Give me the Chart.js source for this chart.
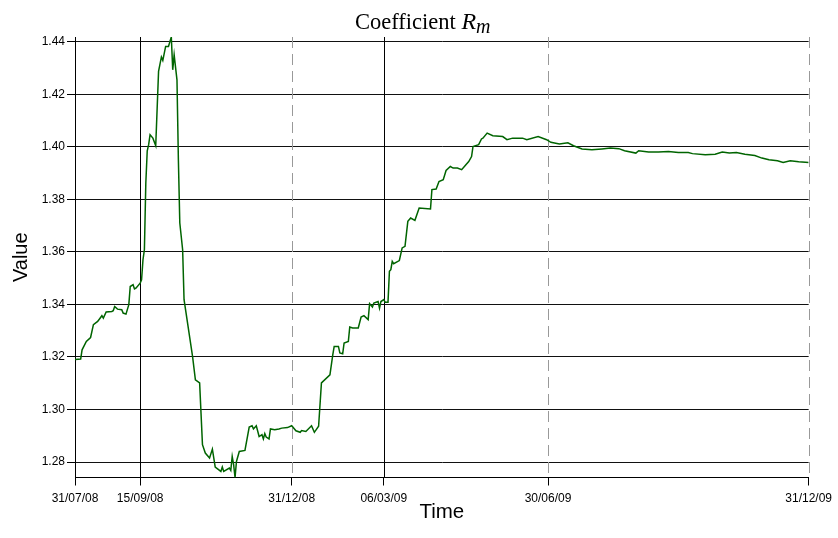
<!DOCTYPE html>
<html>
<head>
<meta charset="utf-8">
<script src="https://cdn.jsdelivr.net/npm/chart.js@4.4.0/dist/chart.umd.min.js"></script>
<style>
  html, body { margin: 0; padding: 0; background: #fff; }
  canvas { display: block; }
</style>
</head>
<body>
<canvas id="rmChart" width="838" height="538"></canvas>
<script>
// days counted from 31/07/08
const days = [0, 4, 5, 8, 11, 13, 16, 19, 20, 22, 26, 27, 28, 30, 33, 34, 36, 38, 39, 41,
  42, 43, 46, 47, 48, 49, 50, 51, 52, 53, 55, 57, 59, 61, 62, 64, 66, 68, 69, 70,
  72, 73, 74, 76, 77, 83, 85, 88, 90, 92, 95, 97, 99, 103, 104, 105, 109, 110, 111, 112,
  113, 114, 116, 120, 123, 125, 126, 128, 130, 132, 133, 134, 135, 137, 138, 141, 144, 146, 150, 153,
  156, 159, 160, 163, 167, 169, 172, 174, 180, 182, 183, 186, 187, 189, 190, 193, 194, 196, 200, 202,
  204, 207, 208, 210, 211, 214, 215, 216, 218, 219, 221, 222, 223, 224, 225, 229, 231, 233, 235, 237,
  240, 243, 251, 252, 255, 257, 260, 262, 265, 267, 270, 273, 276, 278, 280, 281, 285, 287, 288, 291,
  295, 302, 305, 309, 316, 319, 327, 333, 336, 342, 348, 352, 358, 365, 372, 378, 384, 388, 396, 398,
  405, 412, 419, 426, 433, 436, 445, 452, 457, 462, 467, 473, 480, 485, 490, 496, 500, 505, 511, 518];

const rm = [1.3190, 1.3192, 1.3227, 1.3259, 1.3274, 1.3323, 1.3335, 1.3357, 1.3348, 1.3371, 1.3373, 1.3376, 1.3392, 1.3382, 1.3380, 1.3367, 1.3363, 1.3399, 1.3468, 1.3475,
  1.3459, 1.3462, 1.3481, 1.3494, 1.3570, 1.3608, 1.3862, 1.3985, 1.4008, 1.4046, 1.4033, 1.4004, 1.4287, 1.4342, 1.4329, 1.4382, 1.4382, 1.4418, 1.4293, 1.4350,
  1.4255, 1.3950, 1.3710, 1.3608, 1.3418, 1.3202, 1.3113, 1.3101, 1.2866, 1.2834, 1.2815, 1.2849, 1.2781, 1.2764, 1.2781, 1.2764, 1.2777, 1.2768, 1.2821, 1.2790,
  1.2741, 1.2802, 1.2840, 1.2844, 1.2933, 1.2938, 1.2926, 1.2938, 1.2897, 1.2904, 1.2888, 1.2908, 1.2895, 1.2888, 1.2926, 1.2923, 1.2926, 1.2929, 1.2931, 1.2938,
  1.2919, 1.2913, 1.2920, 1.2916, 1.2938, 1.2913, 1.2936, 1.3101, 1.3132, 1.3208, 1.3240, 1.3240, 1.3215, 1.3212, 1.3253, 1.3259, 1.3314, 1.3310, 1.3310, 1.3352,
  1.3357, 1.3342, 1.3403, 1.3390, 1.3405, 1.3411, 1.3386, 1.3411, 1.3418, 1.3408, 1.3408, 1.3526, 1.3532, 1.3564, 1.3555, 1.3567, 1.3615, 1.3621, 1.3716, 1.3729,
  1.3720, 1.3767, 1.3763, 1.3837, 1.3839, 1.3868, 1.3875, 1.3910, 1.3925, 1.3919, 1.3919, 1.3913, 1.3932, 1.3944, 1.3963, 1.4001, 1.4008, 1.4030, 1.4033, 1.4052,
  1.4042, 1.4039, 1.4027, 1.4033, 1.4033, 1.4027, 1.4039, 1.4027, 1.4017, 1.4011, 1.4015, 1.4004, 1.3992, 1.3989, 1.3992, 1.3995, 1.3993, 1.3985, 1.3976, 1.3985,
  1.3980, 1.3980, 1.3982, 1.3978, 1.3978, 1.3974, 1.3970, 1.3972, 1.3980, 1.3976, 1.3978, 1.3972, 1.3967, 1.3957, 1.3951, 1.3947, 1.3940, 1.3947, 1.3943, 1.3940];

const xTickDays = [0, 46, 153, 218, 334, 518];
const xTickLabels = ['31/07/08', '15/09/08', '31/12/08', '06/03/09', '30/06/09', '31/12/09'];
const yTicks = [1.28, 1.30, 1.32, 1.34, 1.36, 1.38, 1.40, 1.42, 1.44];

// vertical markers: solid events and dashed period ends
const solidDays = [46, 218];
const dashedDays = [153, 334, 518];

const sans = '"Liberation Sans", Arial, sans-serif';
const serif = '"Liberation Serif", "Times New Roman", serif';

const markerLines = {
  id: 'markerLines',
  beforeDatasetsDraw(chart) {
    const { ctx, chartArea, scales } = chart;
    ctx.save();
    ctx.lineWidth = 1;
    ctx.strokeStyle = '#000';
    solidDays.forEach(d => {
      const x = Math.round(scales.x.getPixelForValue(d)) + 0.5;
      ctx.beginPath();
      ctx.moveTo(x, chartArea.top);
      ctx.lineTo(x, chartArea.bottom);
      ctx.stroke();
    });
    ctx.strokeStyle = '#999';
    ctx.setLineDash([11, 6]);
    dashedDays.forEach(d => {
      const x = Math.round(scales.x.getPixelForValue(d)) + 0.5;
      ctx.beginPath();
      ctx.moveTo(x, chartArea.top);
      ctx.lineTo(x, chartArea.bottom);
      ctx.stroke();
    });
    ctx.restore();
  }
};

const titlePlugin = {
  id: 'mathTitle',
  afterDraw(chart) {
    const { ctx } = chart;
    ctx.save();
    ctx.fillStyle = '#000';
    ctx.textBaseline = 'alphabetic';
    const base = 29;
    let x = 355;
    ctx.font = '22.5px ' + serif;
    ctx.fillText('Coefficient ', x, base);
    x += ctx.measureText('Coefficient ').width;
    ctx.font = 'italic 24px ' + serif;
    ctx.fillText('R', x, base);
    x += ctx.measureText('R').width;
    ctx.font = 'italic 20px ' + serif;
    ctx.fillText('m', x, base + 4);
    ctx.restore();
  }
};

const points = days.map((d, i) => ({ x: d, y: rm[i] }));

new Chart(document.getElementById('rmChart'), {
  type: 'line',
  data: {
    datasets: [{
      label: 'Rm',
      data: points,
      borderColor: '#006400',
      borderWidth: 1.5,
      pointRadius: 0,
      tension: 0,
      fill: false
    }]
  },
  options: {
    responsive: false,
    animation: false,
    layout: { padding: { top: 37, right: 27, left: 0, bottom: 0 } },
    plugins: {
      legend: { display: false },
      tooltip: { enabled: false }
    },
    scales: {
      x: {
        type: 'linear',
        min: 0,
        max: 518,
        afterBuildTicks: scale => { scale.ticks = xTickDays.map(v => ({ value: v })); },
        afterFit: scale => { scale.height = 60.5; },
        grid: { drawOnChartArea: false, drawTicks: true, tickLength: 8, color: '#000' },
        border: { display: true, color: '#000', width: 1 },
        ticks: {
          autoSkip: false,
          maxRotation: 0,
          padding: 6,
          color: '#000',
          font: { family: sans, size: 12 },
          callback: (value, index) => xTickLabels[index]
        },
        title: {
          display: true,
          text: 'Time',
          color: '#000',
          font: { family: sans, size: 20.5 },
          padding: { top: 0, bottom: 13 }
        }
      },
      y: {
        min: 1.2741,
        max: 1.4418,
        afterBuildTicks: scale => { scale.ticks = yTicks.map(v => ({ value: v })); },
        afterFit: scale => { scale.width = 75; },
        grid: { color: '#111', lineWidth: 1, tickLength: 8, tickColor: '#000' },
        border: { display: true, color: '#000', width: 1 },
        ticks: {
          padding: 2,
          color: '#000',
          font: { family: sans, size: 12 },
          callback: value => value.toFixed(2)
        },
        title: {
          display: true,
          text: 'Value',
          color: '#000',
          font: { family: sans, size: 20 },
          padding: { top: 9, bottom: 0 }
        }
      }
    }
  },
  plugins: [markerLines, titlePlugin]
});
</script>
</body>
</html>
